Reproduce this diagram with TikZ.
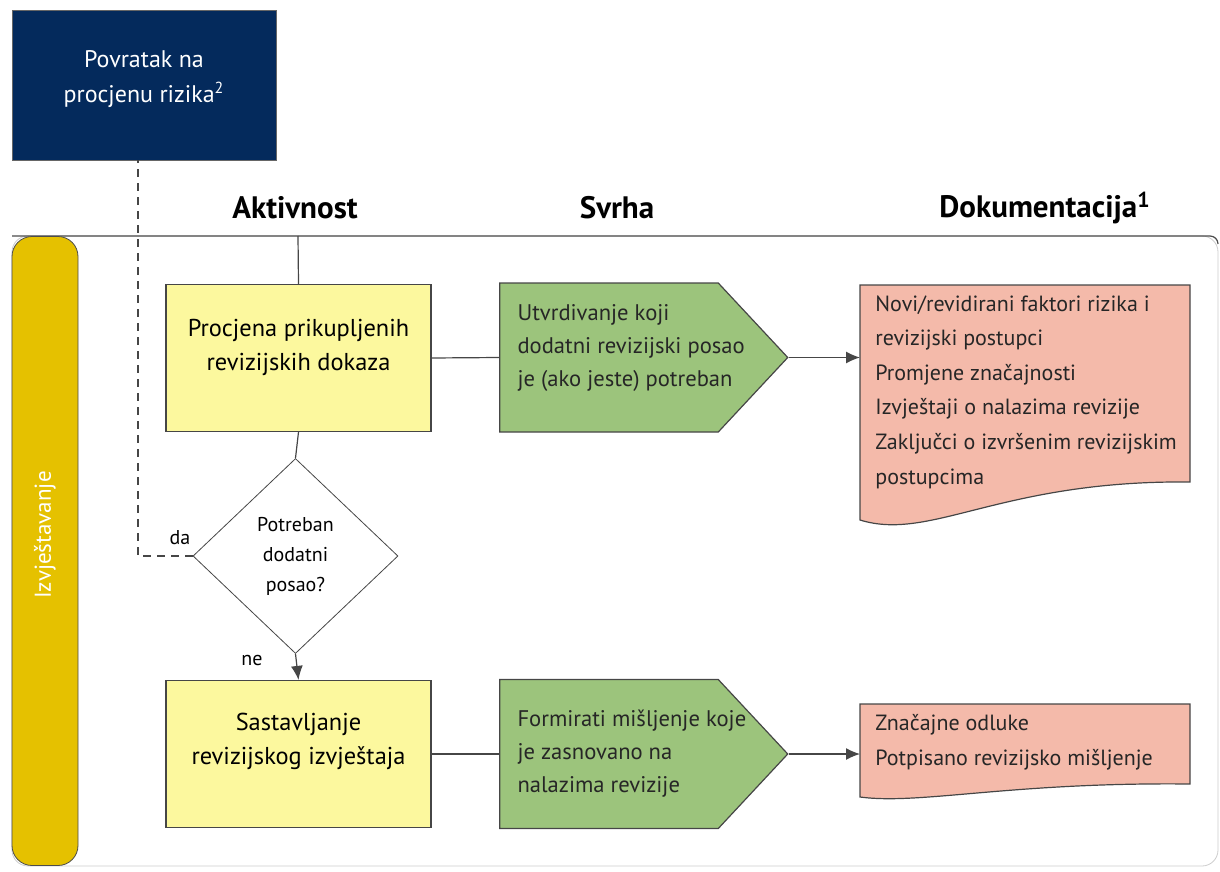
\documentclass[tikz,border=0pt]{standalone}
\usepackage{fontspec}
\setmainfont{PT Sans}
\usetikzlibrary{arrows.meta}
\usetikzlibrary{calc}
\usetikzlibrary{backgrounds}
\usetikzlibrary{shapes.geometric}
\usetikzlibrary{shapes.symbols}

\definecolor{navy}{RGB}{4,42,92}
\definecolor{gold}{RGB}{229,193,0}
\definecolor{paleyellow}{RGB}{252,248,158}
\definecolor{leafgreen}{RGB}{156,196,124}
\definecolor{salmon}{RGB}{244,186,170}
\definecolor{linegray}{RGB}{70,70,70}

\tikzset{
  headtxt/.style={font=\fontsize{15.5}{18}\selectfont\bfseries},
  smalltxt/.style={font=\fontsize{10}{12}\selectfont, inner sep=1pt},
  retbox/.style={fill=navy, draw=black!60, text=white, align=center,
    minimum width=132pt, minimum height=75pt, font=\fontsize{12}{17.5}\selectfont},
  tabbox/.style={fill=gold, draw=black!70, rounded corners=10pt, rotate=90,
    minimum width=314.5pt, minimum height=33pt, text=white,
    font=\fontsize{11.5}{13}\selectfont},
  actbox/.style={fill=paleyellow, draw=linegray, semithick, align=center,
    minimum width=132.5pt, minimum height=73.5pt, font=\fontsize{12.2}{17}\selectfont},
  decbox/.style={diamond, fill=white, draw=linegray, inner sep=0pt, align=center,
    minimum width=102.5pt, minimum height=97.5pt, font=\fontsize{10}{15}\selectfont},
  purpbox/.style={signal, signal to=east, signal pointer angle=94, fill=leafgreen,
    draw=linegray, semithick, minimum width=144pt, minimum height=74.5pt, inner sep=0pt},
  purptxt/.style={anchor=west, align=left, inner xsep=9pt, text=black!85,
    font=\fontsize{11.3}{16.5}\selectfont},
  doctxt/.style={anchor=north west, align=left, inner xsep=7.5pt, inner ysep=5pt,
    text=black!85, font=\fontsize{11}{17.3}\selectfont},
  docshape/.style={fill=salmon, draw=linegray, semithick},
  flow/.style={draw=linegray, semithick},
}

\begin{document}
\begin{tikzpicture}[x=0.5pt,y=-0.5pt,>={Latex[length=7pt,width=6pt]}]
  \useasboundingbox (0,0) rectangle (1220,872);
  % lane frame
  \draw[black!20, rounded corners=8pt] (12,236) rectangle (1218,866);
  \draw[black!70, semithick] (12,236) -- (1210,236) to[out=0,in=90] (1218,244);

  \node[headtxt] (hakt) at (295,208) {Aktivnost};
  \node[headtxt] (hsvr) at (617,208) {Svrha};
  \node[headtxt] (hdok) at (1045,208) {Dokumentacija\textsuperscript{1}};

  \node[retbox] (ret) at (144,85) {Povratak na\\procjenu rizika\textsuperscript{2}\\[-9pt]};
  \node[tabbox] (tab) at (45,551) {\hspace{16pt}Izvještavanje};

  % aktivnost
  \coordinate (lanetop) at (298,236);
  \node[actbox] (act1) at (298.5,358) {Procjena prikupljenih\\revizijskih dokaza\\[-4pt]};
  \node[decbox] (dec) at (295.5,556) {Potreban\\dodatni\\posao?};
  \node[actbox] (act2) at (298.5,754) {Sastavljanje\\revizijskog izvještaja\\[-2pt]};
  \node[smalltxt] (da) at (180,538) {da};
  \node[smalltxt] (ne) at (252,660) {ne};

  % svrha
  \node[purpbox] (purp1) at (609,357.5) {};
  \node[purptxt, yshift=5pt] (purp1t) at (purp1.west)
    {Utvrdivanje koji\\dodatni revizijski posao\\je (ako jeste) potreban};
  \node[purpbox] (purp2) at (609,754) {};
  \node[purptxt] (purp2t) at (purp2.west)
    {Formirati mišljenje koje\\je zasnovano na\\nalazima revizije};

  % dokumentacija
  \node[doctxt] (doc1) at (860,285) {Novi/revidirani faktori rizika i\\revizijski postupci\\
    Promjene značajnosti\\Izvještaji o nalazima revizije\\Zaključci o izvršenim revizijskim\\postupcima};
  \node[doctxt] (doc2) at (860,704) {Značajne odluke\\Potpisano revizijsko mišljenje};
  \begin{scope}[on background layer]
    \draw[docshape] (doc1.north west) -- ++(330,0) -- ++(0,197)
      .. controls +(-190,-2) and +(71,22) .. ($(doc1.north west)+(0,235)$) -- cycle;
    \draw[docshape] (doc2.north west) -- ++(330,0) -- ++(0,80)
      .. controls +(-180,-2) and +(60,8) .. ($(doc2.north west)+(0,93)$) -- cycle;
  \end{scope}

  % veze
  \draw[flow] (lanetop) -- (act1.north);
  \draw[flow] (act1.south) -- (dec.north);
  \draw[flow,->] (dec.south) -- (act2.north);
  \draw[flow, dashed, dash pattern=on 4pt off 3pt] (dec.west) -| ([xshift=-3pt]ret.south);
  \draw[flow] (act1.east) -- (purp1.west);
  \draw[flow] (act2.east) -- (purp2.west);
  \draw[flow,->] (purp1.east) -- (purp1.east -| doc1.west);
  \draw[flow,->] (purp2.east) -- (purp2.east -| doc2.west);
\end{tikzpicture}
\end{document}
